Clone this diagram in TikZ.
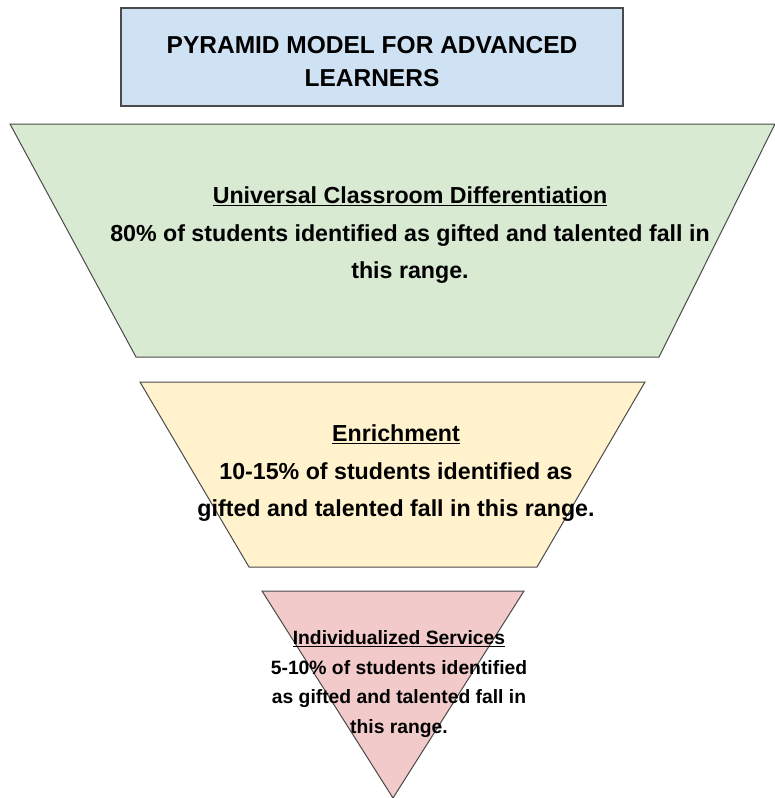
\documentclass[tikz,border=0pt]{standalone}
\usepackage{fontspec}
\setmainfont{Liberation Sans}
\definecolor{titlefill}{HTML}{CFE2F3}
\definecolor{greenfill}{HTML}{D9EAD3}
\definecolor{yellowfill}{HTML}{FFF2CC}
\definecolor{pinkfill}{HTML}{F2CACA}
\definecolor{edge}{HTML}{4A4A4A}
\tikzset{
  band/.style={draw=edge, line width=1pt, line join=miter},
  label/.style={align=center, inner sep=0pt, text=black},
  bigtext/.style={label, font=\fontsize{23.2}{37.5}\selectfont\bfseries},
  smalltext/.style={label, font=\fontsize{19.3}{29.5}\selectfont\bfseries},
}
\begin{document}
\begin{tikzpicture}[x=1pt, y=-1pt]
  \useasboundingbox (0,0) rectangle (775,798);

  % title banner
  \path[fill=titlefill, draw=edge, line width=1.2pt] (121,8) rectangle (623,106);
  \node[label, font=\fontsize{24.5}{33}\selectfont\bfseries] (title) at (372,62)
    {PYRAMID MODEL FOR ADVANCED\\LEARNERS};

  % top band
  \path[band, fill=greenfill] (10,124) -- (775,124) -- (659,357) -- (136,357) -- cycle;
  \node[bigtext] (universal) at (410,235.5)
    {\underline{Universal Classroom Differentiation}\\
     80\% of students identified as gifted and talented fall in\\
     this range.};

  % middle band
  \path[band, fill=yellowfill] (140,382) -- (645,382) -- (537,567) -- (249,567) -- cycle;
  \node[bigtext] (enrich) at (396,473.5)
    {\underline{Enrichment}\\
     10-15\% of students identified as\\
     gifted and talented fall in this range.};

  % bottom tip
  \path[band, fill=pinkfill] (262,591) -- (524,591) -- (393,798) -- cycle;
  \node[smalltext] (indiv) at (399,684)
    {\underline{Individualized Services}\\
     5-10\% of students identified\\
     as gifted and talented fall in\\
     this range.};
\end{tikzpicture}
\end{document}
